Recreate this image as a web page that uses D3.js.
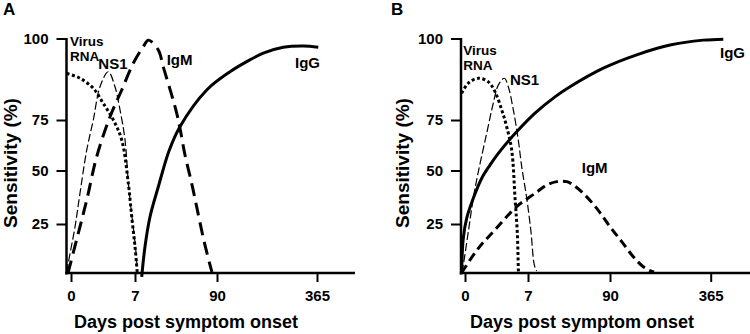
<!DOCTYPE html>
<html>
<head>
<meta charset="utf-8">
<script src="https://d3js.org/d3.v7.min.js"></script>
<style>
    body { margin: 0; background: #fff; }
    text { font-family: "Liberation Sans", Arial, sans-serif; font-weight: bold; fill: #000; }
</style>
</head>
<body>
<div id="my_dataviz"></div>
<script>
// tick labels
var dayTicks = [0, 7, 90, 365];
var sensTicks = [25, 50, 75, 100];

// panel A - dengue primary infection
var rnaA_days = [-0.47, 0.98, 2.44, 3.53, 4.63, 5.55, 6.27, 6.64, 7.0, 9.3];
var rnaA_sens = [89.3, 87.8, 84.7, 80.1, 75, 65.1, 44.0, 28.4, 13.4, 0];
var ns1A_days = [-0.44, -0.3, 0.44, 0.98, 1.72, 2.44, 3.17, 4.08, 4.81, 5.36, 5.91, 6.29, 6.67, 7.5, 9.6];
var ns1A_sens = [0.5, 5, 23.6, 39.3, 60.1, 75, 85.2, 89.8, 85.2, 78.1, 65.1, 43.2, 28.3, 13.3, 0];
var igmA_days = [-0.33, 0.8, 1.72, 2.81, 4.27, 5.55, 6.81, 15.4, 20.5, 30.6, 35.6, 44.1, 49.2, 52.5, 57.6, 64.4, 69.4, 76.1, 82.9, 84.9];
var igmA_sens = [0, 20.3, 36.2, 56.8, 76.0, 84.2, 92.4, 97.5, 99.5, 96.5, 91.3, 82.7, 77.1, 71.0, 57.7, 44.0, 33.1, 18.0, 4.1, 0.5];
var iggA_days = [13.8, 17.1, 22.2, 30.6, 41.4, 52.5, 79.6, 125.8, 171.7, 217.3, 272.3, 327.3, 368.6];
var iggA_sens = [-2, 13.4, 28.4, 42.4, 59.7, 71.7, 84.2, 89.8, 92.9, 95.5, 97.3, 97.7, 97.3];
var labelTextA = ["Virus", "RNA", "NS1", "IgM", "IgG"];
var labelDaysA = [-0.11, -0.11, 2.99, 39.1, 304.5];
var labelSensA = [99.0, 94.4, 92.4, 93.4, 92.6];

// panel B - secondary infection
var rnaB_days = [-0.37, 0.37, 1.48, 2.59, 3.33, 4.08, 4.63, 5.19, 5.56, 5.81, 5.92, 5.94];
var rnaB_sens = [83.2, 86.3, 87.8, 86.7, 83.7, 78.1, 71.7, 60.1, 37.0, 20.6, 3.2, 0.5];
var ns1B_days = [-0.37, -0.19, 0.37, 0.92, 1.48, 2.41, 3.14, 3.7, 4.37, 4.81, 5.37, 5.92, 6.3, 6.86, 10.0, 13.4, 15.8];
var ns1B_sens = [0.15, 4.1, 21.1, 37.0, 49.4, 68.4, 80.1, 85.7, 87.8, 85.2, 78.1, 65.1, 51.9, 37.0, 21.1, 4.1, 1.0];
var igmB_days = [-0.37, 1.48, 3.33, 5.74, 14.1, 26.0, 36.1, 46.2, 52.9, 63.0, 76.6, 90, 122.0, 153.6, 180.9, 199.2, 210.2];
var igmB_sens = [0.15, 12.6, 22.0, 33.1, 39.3, 43.2, 44.8, 44.8, 43.2, 39.3, 32.3, 23.6, 16.0, 8.3, 3.2, 1.2, 0.5];
var iggB_days = [-0.37, -0.19, 0.19, 0.92, 1.86, 2.78, 3.7, 5.92, 14.1, 34.3, 49.5, 83.2, 162.9, 253.9, 344.8, 399.4];
var iggB_sens = [0.15, 17.7, 27.7, 37.0, 46.4, 52.7, 58.5, 70.0, 77.1, 82.1, 85.2, 90.9, 95.0, 98.0, 99.5, 99.8];
var labelTextB = ["Virus", "RNA", "NS1", "IgM", "IgG"];
var labelDaysB = [-0.19, -0.19, 5.0, 61.4, 390.4];
var labelSensB = [96.5, 91.9, 87.3, 51.2, 95.5];

// spojenie dvoch polí do bodov
function zip(days, sens) {
    return days.map(function (d, i) { return {day: d, sens: sens[i]}; });
}

var svg = d3.select("#my_dataviz")
    .append("svg")
    .attr("width", 750)
    .attr("height", 334);

var panels = [
    {
        letter: "A", letterX: 3, xRange: [71, 135, 217, 317], axisX: 66.5, axisRight: 355,
        titleX: 186, yTitleX: 10,
        series: [
            {pts: zip(rnaA_days, rnaA_sens), width: 3, dash: "3,2.5"},
            {pts: zip(ns1A_days, ns1A_sens), width: 1.2, dash: "8,3"},
            {pts: zip(igmA_days, igmA_sens), width: 3, dash: "13,7"},
            {pts: zip(iggA_days, iggA_sens), width: 3, dash: null}
        ],
        labels: labelTextA.map(function (t, i) { return {text: t, day: labelDaysA[i], sens: labelSensA[i]}; })
    },
    {
        letter: "B", letterX: 391, xRange: [465, 528, 610, 710.7], axisX: 461, axisRight: 750,
        titleX: 582, yTitleX: 402,
        series: [
            {pts: zip(rnaB_days, rnaB_sens), width: 3, dash: "3,2.5"},
            {pts: zip(ns1B_days, ns1B_sens), width: 1.2, dash: "8,3"},
            {pts: zip(igmB_days, igmB_sens), width: 3, dash: "9,5"},
            {pts: zip(iggB_days, iggB_sens), width: 3, dash: null}
        ],
        labels: labelTextB.map(function (t, i) { return {text: t, day: labelDaysB[i], sens: labelSensB[i]}; })
    }
];

panels.forEach(function (p) {
    var g = svg.append("g");

    // schematic axes: piecewise scales
    var x = d3.scaleLinear().domain(dayTicks).range(p.xRange);
    var y = d3.scaleLinear().domain([0].concat(sensTicks)).range([273, 224, 170.5, 120, 38.5]);

    // osi
    g.append("line")
        .attr("x1", p.axisX).attr("x2", p.axisX)
        .attr("y1", y(100) - 0.5).attr("y2", y(0) + 1.5)
        .attr("stroke", "#000").attr("stroke-width", 2.5);
    g.append("line")
        .attr("x1", p.axisX - 1.2).attr("x2", p.axisRight)
        .attr("y1", y(0)).attr("y2", y(0))
        .attr("stroke", "#000").attr("stroke-width", 2.5);

    var xAxis = g.append("g")
        .attr("transform", "translate(0," + y(0) + ")")
        .call(d3.axisBottom(x).tickValues(dayTicks).tickSize(9).tickPadding(8).tickSizeOuter(0));
    xAxis.select(".domain").remove();
    xAxis.selectAll("line").attr("stroke-width", 2);
    xAxis.selectAll("text").attr("font-size", "15px").attr("fill", "#000");

    var yAxis = g.append("g")
        .attr("transform", "translate(" + p.axisX + ",0)")
        .call(d3.axisLeft(y).tickValues(sensTicks).tickSize(10).tickPadding(8).tickSizeOuter(0));
    yAxis.select(".domain").remove();
    yAxis.selectAll("line").attr("stroke-width", 2);
    yAxis.selectAll("text").attr("font-size", "15px").attr("fill", "#000");

    // krivky
    var line = d3.line()
        .x(function (d) { return x(d.day); })
        .y(function (d) { return y(d.sens); })
        .curve(d3.curveCatmullRom.alpha(0.5));

    p.series.forEach(function (s) {
        g.append("path")
            .datum(s.pts)
            .attr("d", line)
            .attr("fill", "none")
            .attr("stroke", "#000")
            .attr("stroke-width", s.width)
            .attr("stroke-dasharray", s.dash)
            .attr("stroke-linecap", "butt");
    });

    // popisy kriviek
    g.selectAll(".lab")
        .data(p.labels)
        .enter()
        .append("text")
        .attr("x", function (d) { return x(d.day); })
        .attr("y", function (d) { return y(d.sens); })
        .attr("dy", "0.35em")
        .attr("font-size", function (d) { return (d.text === "Virus" || d.text === "RNA") ? "13.5px" : "15px"; })
        .text(function (d) { return d.text; });

    // nadpisy osí
    g.append("text")
        .attr("x", p.titleX).attr("y", 328)
        .attr("text-anchor", "middle")
        .attr("font-size", "18px")
        .text("Days post symptom onset");
    g.append("text")
        .attr("transform", "translate(" + p.yTitleX + ",163)rotate(-90)")
        .attr("dy", "0.35em")
        .attr("text-anchor", "middle")
        .attr("font-size", "19px")
        .text("Sensitivity (%)");

    g.append("text")
        .attr("x", p.letterX).attr("y", 15)
        .attr("font-size", "17px")
        .text(p.letter);
});
</script>
</body>
</html>
